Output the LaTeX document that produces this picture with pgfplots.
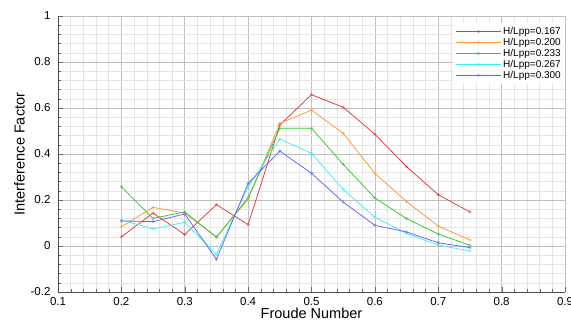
\documentclass[border=0pt]{standalone}
\usepackage{pgfplots}
\pgfplotsset{compat=1.18}
\usepackage{fontspec}
\setmainfont{Liberation Sans}
\definecolor{cred}{RGB}{225,55,55}
\definecolor{corange}{RGB}{255,150,50}
\definecolor{cgreen}{RGB}{50,200,50}
\definecolor{ccyan}{RGB}{60,240,240}
\definecolor{cblue}{RGB}{100,100,250}
\begin{document}
\begin{tikzpicture}
\useasboundingbox (0,0) rectangle (571pt,324pt);
\begin{axis}[
  at={(58pt,32pt)}, anchor=south west,
  scale only axis, width=507pt, height=276pt,
  xmin=0.1, xmax=0.9, ymin=-0.2, ymax=1,
  xtick={0.1,0.2,...,0.9}, ytick={-0.2,0,0.2,0.4,0.6,0.8,1},
  xticklabels={0.1,0.2,0.3,0.4,0.5,0.6,0.7,0.8,0.9},
  yticklabels={-0.2,0,0.2,0.4,0.6,0.8,1},
  minor x tick num=4, minor y tick num=4,
  grid=both,
  major grid style={gray!50, line width=0.6pt},
  minor grid style={gray!20, line width=0.4pt},
  axis x line*=bottom, axis y line*=left,
  axis line style={black!70, line width=0.6pt, -},
  tick style={black!60},
  tick align=inside,
  major tick length=5pt, minor tick length=3pt,
  tick label style={font=\fontsize{11.5}{13}\selectfont},
  xticklabel style={yshift=-2pt},
  yticklabel style={xshift=-4pt},
  /pgf/number format/assume math mode=true,
  xlabel={Froude Number}, ylabel={Interference Factor},
  label style={font=\fontsize{14.5}{16}\selectfont},
  xlabel style={yshift=5pt},
  ylabel style={yshift=-1pt},
  legend style={at={(1.0,0.975)}, anchor=north east, draw=none, fill=white,
    font=\fontsize{10}{11}\selectfont, row sep=-1.8pt, inner sep=2pt},
  legend cell align=left,
  legend image code/.code={\draw[#1] (0pt,0pt) -- (45pt,0pt); \draw[#1, only marks] plot coordinates {(22.5pt,0pt)};},
  every axis plot/.append style={line width=0.75pt, mark=o, mark size=1.3pt, mark options={solid, fill opacity=0.3, draw opacity=0.5}},
]
\addplot[cred] coordinates {(0.2,0.040)(0.25,0.143)(0.3,0.050)(0.35,0.180)(0.4,0.093)(0.45,0.526)(0.5,0.658)(0.55,0.603)(0.6,0.486)(0.65,0.345)(0.7,0.223)(0.75,0.148)};
\addplot[corange] coordinates {(0.2,0.084)(0.25,0.168)(0.3,0.143)(0.35,0.040)(0.4,0.203)(0.45,0.533)(0.5,0.591)(0.55,0.490)(0.6,0.316)(0.65,0.193)(0.7,0.087)(0.75,0.026)};
\addplot[cgreen] coordinates {(0.2,0.258)(0.25,0.120)(0.3,0.148)(0.35,0.038)(0.4,0.210)(0.45,0.512)(0.5,0.512)(0.55,0.355)(0.6,0.209)(0.65,0.119)(0.7,0.052)(0.75,0.003)};
\addplot[ccyan] coordinates {(0.2,0.113)(0.25,0.074)(0.3,0.103)(0.35,-0.036)(0.4,0.258)(0.45,0.465)(0.5,0.403)(0.55,0.246)(0.6,0.125)(0.65,0.055)(0.7,0.004)(0.75,-0.022)};
\addplot[cblue] coordinates {(0.2,0.109)(0.25,0.106)(0.3,0.139)(0.35,-0.058)(0.4,0.272)(0.45,0.413)(0.5,0.316)(0.55,0.191)(0.6,0.090)(0.65,0.061)(0.7,0.014)(0.75,-0.007)};
\legend{H/Lpp=0.167,H/Lpp=0.200,H/Lpp=0.233,H/Lpp=0.267,H/Lpp=0.300}
\end{axis}
\end{tikzpicture}
\end{document}
